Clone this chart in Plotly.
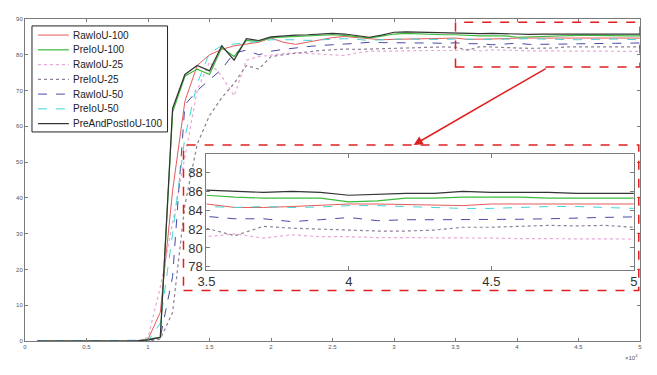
import plotly.graph_objects as go

iters = [round(0.1 * (i + 1), 1) for i in range(50)]  # x10^4

zeros9 = [0] * 9
raw100 = zeros9 + [0.5, 8, 42, 67, 77, 80, 81.5, 82.5, 83, 83.5, 84.7, 83.5, 82.9, 83.5, 84.2, 84.8, 85.1, 84.8, 84.5, 84.2,
                   84.3, 84.4, 84.5, 84.4, 84.5, 84.67, 84.3, 84.3, 84.4, 84.5, 84.67, 84.67, 84.6, 84.6, 84.5,
                   84.67, 84.67, 84.67, 84.67, 84.67, 84.67]
pre100 = zeros9 + [0.5, 1, 64, 74, 76, 74.5, 82, 79.5, 84, 83.8, 84.8, 85, 85.2, 85.3, 85.5, 85.6, 85.4, 85, 84.7, 85.2,
                   85.8, 86, 85.8, 85.7, 85.6, 85.6, 85.4, 85.3, 85.3, 85.3, 84.9, 85.0, 85.3, 85.3, 85.4,
                   85.4, 85.4, 85.3, 85.3, 85.3, 85.3]
raw25 = zeros9 + [1, 15, 33, 52, 70, 78, 74, 68.5, 78.5, 79.5, 80, 80.3, 80.6, 80.4, 80.2, 80.1, 79.8, 80.5, 81, 81.0,
                  81.1, 81.2, 81.1, 81.2, 81.2, 81.2, 81.5, 81.05, 81.4, 81.2, 81.2, 81.1, 81.1, 81.1, 81.1,
                  81.05, 81.0, 81.0, 81.0, 81.0, 80.95]
pre25 = zeros9 + [0, 0.5, 8, 38, 55, 63, 68, 72, 77, 76, 79.5, 80, 80.5, 80.8, 81.2, 81.4, 81.6, 81.5, 81.6, 81.8,
                  81.9, 82, 82.1, 82.1, 82.2, 82.1, 81.3, 82.3, 82.1, 82.0, 81.9, 81.8, 81.8, 81.9, 82.2,
                  82.2, 82.3, 82.4, 82.35, 82.4, 82.2]
raw50 = zeros9 + [0.2, 1, 18, 66, 70, 73, 76, 80.5, 81.3, 80, 81, 81.5, 82, 82.3, 82.6, 82.9, 83.0, 83.2, 83.5, 83.4,
                  83.3, 83.2, 83.3, 83.3, 83.2, 83.35, 83.1, 83.1, 82.8, 83.0, 83.24, 82.9, 83.0, 83.0, 83.0,
                  83.07, 83.05, 83.1, 83.2, 83.25, 83.3]
pre50 = zeros9 + [0, 5, 30, 57, 72, 80.5, 82.5, 83, 83.5, 83.8, 84.2, 84.3, 84.2, 84.0, 84.1, 84.3, 84.5, 84.3, 84.0, 84.2,
                  84.4, 84.5, 84.3, 84.2, 84.3, 84.4, 84.3, 84.4, 84.3, 84.35, 84.5, 84.5, 84.4, 84.3, 84.2,
                  84.2, 84.3, 84.4, 84.4, 84.3, 84.2]
prepost100 = zeros9 + [0.3, 1.0, 65, 74.5, 77, 75.5, 82.5, 78.5, 84.5, 84, 85, 85.3, 85.5, 85.6, 85.8, 86, 85.8, 85.3, 84.9, 85.5,
                       86.3, 86.4, 86.3, 86.2, 86.2, 86.15, 86.0, 85.9, 86.0, 85.9, 85.6, 85.7, 85.8, 85.8, 86.0,
                       85.9, 85.9, 85.9, 85.8, 85.8, 85.8]

series_names = ["RawIoU-100", "PreIoU-100", "RawIoU-25", "PreIoU-25", "RawIoU-50", "PreIoU-50", "PreAndPostIoU-100"]
series_values = [raw100, pre100, raw25, pre25, raw50, pre50, prepost100]
series_colors = ["#e35b5b", "#3cba3c", "#e8a8d8", "#8e7f96", "#4a4aa8", "#3fd6d6", "#333333"]
series_dash = ["solid", "solid", "dot", "dot", "dash", "dash", "solid"]
series_width = [1, 1.2, 1.2, 1.2, 1, 1, 1.2]

main_xticks = [0, 0.5, 1, 1.5, 2, 2.5, 3, 3.5, 4, 4.5, 5]
main_yticks = [0, 10, 20, 30, 40, 50, 60, 70, 80, 90]
inset_xticks = [3.5, 4, 4.5, 5]
inset_yticks = [78, 80, 82, 84, 86, 88]

fig = go.Figure()
for name, vals, color, dash, w in zip(series_names, series_values, series_colors, series_dash, series_width):
    fig.add_trace(go.Scatter(x=iters, y=vals, mode="lines", name=name, showlegend=False,
                             line=dict(color=color, dash=dash, width=w),
                             xaxis="x", yaxis="y"))
for name, vals, color, dash, w in zip(series_names, series_values, series_colors, series_dash, series_width):
    fig.add_trace(go.Scatter(x=iters, y=vals, mode="lines", name=name, showlegend=False,
                             line=dict(color=color, dash=dash, width=w),
                             xaxis="x2", yaxis="y2"))

axcol = "#7a7a7a"
fig.update_layout(
    width=649, height=367,
    margin=dict(l=15, r=17, t=8, b=34),
    paper_bgcolor="white", plot_bgcolor="white",
    font=dict(family="Liberation Sans, Arial", color="#333"),
    showlegend=False,
    xaxis=dict(domain=[0, 1], range=[0, 5], tickvals=main_xticks,
               ticktext=[str(v) for v in main_xticks],
               showgrid=False, zeroline=False, showline=True, linecolor=axcol, linewidth=1,
               mirror="ticks", ticks="inside", ticklen=3, tickcolor=axcol,
               tickfont=dict(size=6, color="#555")),
    yaxis=dict(domain=[0, 1], range=[0, 90], tickvals=main_yticks,
               showgrid=False, zeroline=False, showline=True, linecolor=axcol, linewidth=1,
               mirror="ticks", ticks="inside", ticklen=3, tickcolor=axcol,
               tickfont=dict(size=6, color="#555")),
    xaxis2=dict(domain=[0.295, 0.990], range=[3.5, 5], anchor="y2", tickvals=inset_xticks,
                ticktext=["3.5", "4", "4.5", "5"],
                showgrid=False, zeroline=False, showline=True, linecolor=axcol, linewidth=1,
                mirror="ticks", ticks="inside", ticklen=4, tickcolor=axcol,
                tickfont=dict(size=13, color="#333")),
    yaxis2=dict(domain=[0.2215, 0.5815], range=[77.7, 90], anchor="x2", tickvals=inset_yticks,
                showgrid=False, zeroline=False, showline=True, linecolor=axcol, linewidth=1,
                mirror="ticks", ticks="inside", ticklen=4, tickcolor=axcol,
                tickfont=dict(size=13, color="#333")),
)

dash_red = dict(color="#e02020", width=1.5, dash="dash")
fig.add_shape(type="rect", xref="x", yref="y", x0=3.5, x1=5, y0=76.6, y1=89.1, line=dash_red)
fig.add_shape(type="rect", xref="paper", yref="paper", x0=0.2577, x1=0.998, y0=0.157, y1=0.609, line=dash_red)

fig.add_annotation(x=3.16, y=54.8, ax=4.246, ay=76.4, xref="x", yref="y", axref="x", ayref="y",
                   showarrow=True, arrowhead=2, arrowsize=1.2, arrowwidth=1.5, arrowcolor="#e02020", text="")
fig.add_annotation(x=1.0, y=-0.03, xref="paper", yref="paper", xanchor="right", yanchor="top",
                   text="×10<sup>4</sup>", showarrow=False, font=dict(size=6, color="#555"))

# legend box drawn manually (MATLAB-style compact legend)
def px_x(p):
    return (p - 23) / 617.0

def px_y(p):
    return (341 - p) / 325.0

fig.add_shape(type="rect", xref="paper", yref="paper", x0=px_x(30), x1=px_x(166), y0=px_y(130), y1=px_y(23),
              line=dict(color="#222", width=1), fillcolor="white", layer="above")
row0, rowstep = 32.2, 14.9
for i, (name, color, dash, w) in enumerate(zip(series_names, series_colors, series_dash, series_width)):
    yy = px_y(row0 + i * rowstep)
    fig.add_shape(type="line", xref="paper", yref="paper", x0=px_x(36), x1=px_x(67), y0=yy, y1=yy,
                  line=dict(color=color, dash=dash, width=w), layer="above")
    fig.add_annotation(x=px_x(69), y=yy, xref="paper", yref="paper", xanchor="left", yanchor="middle",
                       text=name, showarrow=False,
                       font=dict(family="Liberation Sans, Arial", size=10, color="#222"))

fig.write_html("out.html")
